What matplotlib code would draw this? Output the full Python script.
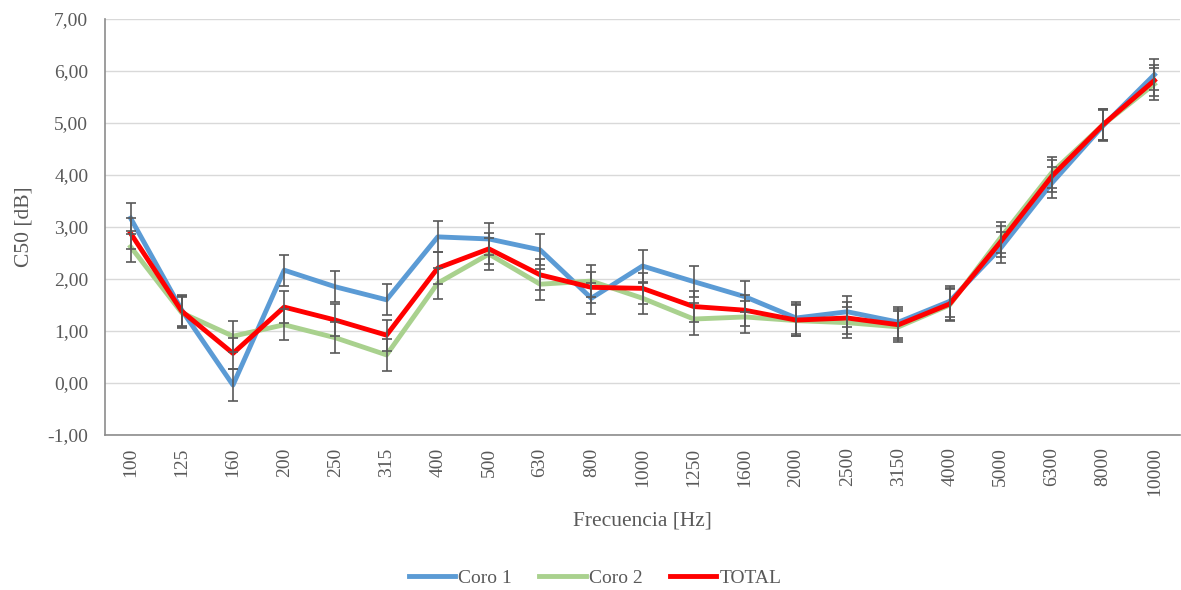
import matplotlib
matplotlib.use("Agg")
import matplotlib.pyplot as plt
import numpy as np

freqs = ["100", "125", "160", "200", "250", "315", "400", "500", "630", "800",
         "1000", "1250", "1600", "2000", "2500", "3150", "4000", "5000", "6300",
         "8000", "10000"]
coro1 = [3.17, 1.40, -0.04, 2.17, 1.85, 1.60, 2.81, 2.77, 2.56, 1.63,
         2.25, 1.95, 1.66, 1.25, 1.37, 1.17, 1.57, 2.60, 3.85, 4.95, 5.93]
coro2 = [2.62, 1.35, 0.90, 1.12, 0.87, 0.54, 1.92, 2.48, 1.90, 1.96,
         1.63, 1.23, 1.27, 1.20, 1.16, 1.08, 1.50, 2.80, 4.05, 4.97, 5.75]
total = [2.88, 1.38, 0.57, 1.46, 1.21, 0.92, 2.21, 2.58, 2.08, 1.84,
         1.82, 1.47, 1.40, 1.21, 1.25, 1.12, 1.52, 2.72, 3.98, 4.97, 5.82]
error = 0.3
yticks = [-1, 0, 1, 2, 3, 4, 5, 6, 7]

plt.rcParams['font.family'] = ['Liberation Serif', 'DejaVu Serif']

fig = plt.figure(figsize=(11.81, 5.90), dpi=100)
ax = fig.add_axes([105 / 1181, 1 - 435 / 590, 1075 / 1181, 416 / 590])

x = np.arange(len(freqs))
series = [(coro1, "Coro 1", "#5B9BD5"), (coro2, "Coro 2", "#A9D18E"), (total, "TOTAL", "#FF0000")]
for i, (vals, name, col) in enumerate(series):
    ax.plot(x, vals, color=col, lw=3.5, label=name, zorder=3 + i, solid_joinstyle='round')
for i, (vals, name, col) in enumerate(series):
    ax.errorbar(x, vals, yerr=error, fmt='none', ecolor='#595959', elinewidth=1.2,
                capsize=3.5, capthick=1.2, zorder=7)

ax.set_xlim(-0.5, len(freqs) - 0.5)
ax.set_ylim(-1, 7)
ax.set_yticks(yticks)
ax.set_yticklabels([f"{v:.2f}".replace(".", ",") for v in yticks])
ax.set_xticks(x)
ax.set_xticklabels(freqs, rotation=90)
ax.tick_params(axis='both', length=0, colors='#595959', labelsize=14)
ax.tick_params(axis='x', pad=9)
ax.tick_params(axis='y', pad=12)
ax.grid(axis='y', color='#D9D9D9', lw=1.0)
ax.set_axisbelow(True)
for s in ['top', 'right']:
    ax.spines[s].set_visible(False)
for s in ['left', 'bottom']:
    ax.spines[s].set_color('#8C8C8C')
    ax.spines[s].set_linewidth(1.2)

ax.set_xlabel("Frecuencia [Hz]", fontsize=15.5, color='#595959', labelpad=11)
ax.set_ylabel("C50 [dB]", fontsize=15.5, color='#595959', labelpad=10)

leg = fig.legend(loc='center', bbox_to_anchor=(595 / 1181, 1 - 578 / 590), ncol=3,
                 frameon=False, fontsize=14, handlelength=2.4, handletextpad=0.15,
                 columnspacing=1.4, labelcolor='#595959')

fig.savefig("out.png", dpi=100)
